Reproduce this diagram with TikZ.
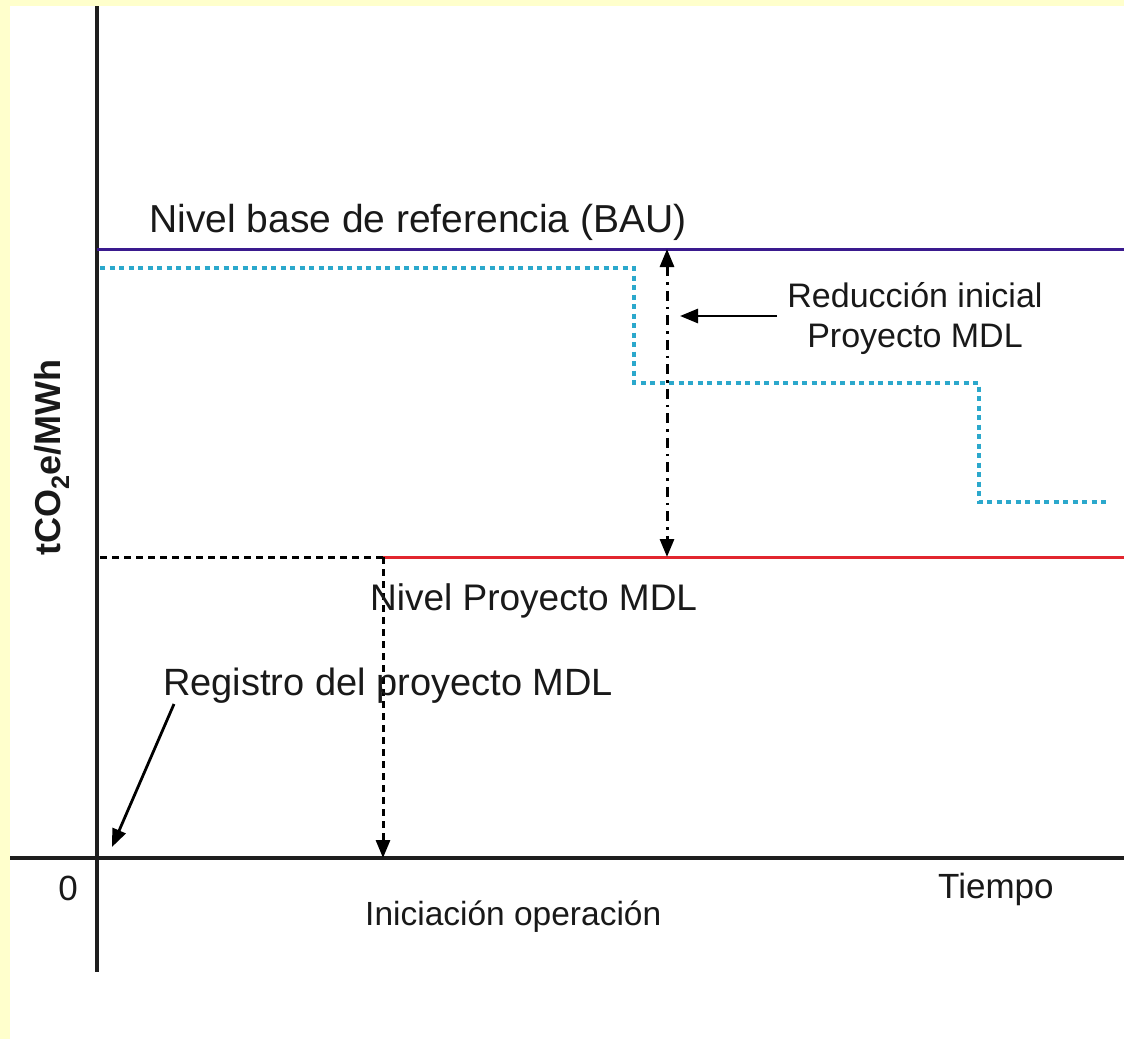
\documentclass[tikz,border=0pt]{standalone}
\usepackage{fontspec}
\setmainfont{Liberation Sans}
\usetikzlibrary{arrows.meta}
\definecolor{paleyellow}{HTML}{FFFFCC}
\definecolor{axisgray}{HTML}{1E1E1E}
\definecolor{baupurple}{HTML}{3A1A8E}
\definecolor{stepcyan}{HTML}{2BA8CC}
\definecolor{projred}{HTML}{E2262E}
\tikzset{
  axisline/.style={line width=3.2pt, draw=axisgray},
  levelline/.style={line width=3pt},
  guide/.style={line width=3pt, draw=black, dash pattern=on 7pt off 5pt},
  dashdot/.style={line width=3pt, draw=black, dash pattern=on 10pt off 6pt on 2.5pt off 6pt},
  pointer/.style={line width=2.8pt, draw=black},
  tip/.style={-{Triangle[length=18pt,width=14pt]}},
  label/.style={inner sep=0pt, text=black!90},
  fs/.style={font=\fontsize{#1}{#1}\selectfont}
}
\begin{document}
\begin{tikzpicture}[x=1pt, y=-1pt]
  % page background and yellow margins
  \useasboundingbox (0,0) rectangle (1124,1039);
  \fill[white] (0,0) rectangle (1124,1039);
  \fill[paleyellow] (0,0) rectangle (10,1039);
  \fill[paleyellow] (0,0) rectangle (1124,6);

  % reference points
  \coordinate (ytop) at (97,6);
  \coordinate (ybot) at (97,972);
  \coordinate (xleft) at (10,858);
  \coordinate (xright) at (1124,858);
  \coordinate (bauL) at (97,249);
  \coordinate (bauR) at (1124,249);
  \coordinate (projL) at (100,557);
  \coordinate (projK) at (383,557);
  \coordinate (projR) at (1124,557);
  \coordinate (opFoot) at (383,858);
  \coordinate (redTop) at (667,249);
  \coordinate (redBot) at (667,557);
  \coordinate (ptrFrom) at (777,316);
  \coordinate (ptrTo) at (680,316);
  \coordinate (regFrom) at (174,704);
  \coordinate (regTo) at (112,847);

  % axes
  \draw[axisline] (ytop) -- (ybot);
  \draw[axisline] (xleft) -- (xright);

  % baseline (BAU) and project level
  \draw[levelline, baupurple] (bauL) -- (bauR);
  \draw[levelline, projred] (projK) -- (projR);

  % stepped reduction path
  \draw[line width=3.5pt, stepcyan, dash pattern=on 5pt off 4.5pt]
    (100,268) -- (634,268) -- (634,383) -- (979,383) -- (979,502) -- (1108,502);

  % start of operation guides
  \draw[guide] (projL) -- (projK);
  \draw[guide, tip] (projK) -- (opFoot);

  % initial reduction span
  \draw[dashdot, {Triangle[length=18pt,width=14pt]}-{Triangle[length=18pt,width=14pt]}] (redTop) -- (redBot);
  \draw[pointer, tip] (ptrFrom) -- (ptrTo);

  % registration pointer
  \draw[pointer, tip] (regFrom) -- (regTo);

  % labels
  \node[label, fs=39, anchor=base] (bau) at (418,232) {Nivel base de referencia (BAU)};
  \node[label, fs=34, anchor=base] (red1) at (915,307) {Reducción inicial};
  \node[label, fs=34, anchor=base] (red2) at (915,347) {Proyecto MDL};
  \node[label, fs=37, anchor=base west] (nivel) at (370,610) {Nivel Proyecto MDL};
  \node[label, fs=38, anchor=base west] (reg) at (163,695) {Registro del proyecto MDL};
  \node[label, fs=35, anchor=base] (zero) at (68,900) {0};
  \node[label, fs=33.5, anchor=base west] (ini) at (365,925) {Iniciación operación};
  \node[label, fs=35, anchor=base west] (tiempo) at (938,898) {Tiempo};
  \node[label, anchor=base west, rotate=90, font=\fontsize{36}{36}\selectfont\bfseries] (ylab) at (60,556) {tCO\textsubscript{2}e/MWh};
\end{tikzpicture}
\end{document}
